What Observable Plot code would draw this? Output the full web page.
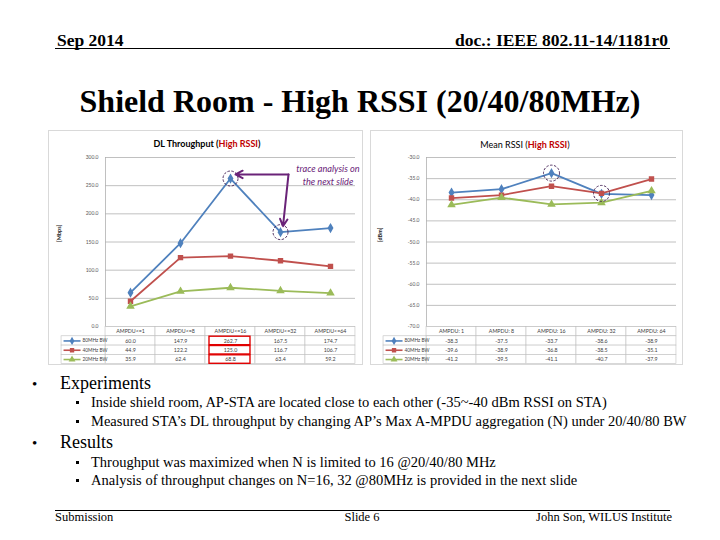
<!DOCTYPE html>
<html><head><meta charset="utf-8">
<script src="https://cdn.jsdelivr.net/npm/d3@7"></script>
<script src="https://cdn.jsdelivr.net/npm/@observablehq/plot@0.6"></script>
<style>
html,body{margin:0;padding:0}
body{width:720px;height:540px;position:relative;background:#fff;font-family:"Liberation Serif","Times New Roman",serif;overflow:hidden;color:#000}
.abs{position:absolute;white-space:nowrap}
.hdr{font-weight:bold;font-size:17.5px;line-height:18px;top:31px}
.rule{position:absolute;height:1px;background:#000}
.frame{position:absolute;border:1px solid #d9d9d9;background:#fff;box-sizing:border-box}
.frame svg{position:absolute;left:0;overflow:visible}
.ctitle{position:absolute;font-family:Lato,sans-serif;font-size:9px;line-height:10px;transform:translateX(-50%);white-space:nowrap;color:#000}
.red{color:#c00000;font-weight:bold}
.b1{font-size:18px;line-height:18px}
.b2{font-size:14.5px;line-height:15px}
.dot1{position:absolute;font-size:15px;line-height:18px}
.sq{position:absolute;width:3px;height:3px;background:#000}
.foot{font-size:12.5px;line-height:13px;top:511px}
</style></head><body>

<div class="abs hdr" style="left:57px">Sep 2014</div>
<div class="abs hdr" style="right:52px">doc.: IEEE 802.11-14/1181r0</div>
<div class="rule" style="left:55px;top:48px;width:615px"></div>

<div class="abs" style="left:0;width:720px;text-align:center;top:85px;font-size:32px;line-height:32px;font-weight:bold">Shield Room - High RSSI (20/40/80MHz)</div>

<div class="frame" id="f1" style="left:48px;top:130px;width:315px;height:235px">
  <div class="ctitle" style="left:158px;top:8px;font-weight:bold">DL Throughput (<span class="red">High RSSI</span>)</div>
</div>
<div class="frame" id="f2" style="left:370px;top:130px;width:313px;height:235px">
  <div class="ctitle" style="left:154px;top:9px">Mean RSSI (<span class="red">High RSSI</span>)</div>
</div>

<div class="dot1" style="left:32px;top:375px">•</div>
<div class="abs b1" style="left:60px;top:374px">Experiments</div>
<div class="sq" style="left:76px;top:401px"></div>
<div class="abs b2" style="left:91px;top:395px">Inside shield room, AP-STA are located close to each other (-35~-40 dBm RSSI on STA)</div>
<div class="sq" style="left:76px;top:420px"></div>
<div class="abs b2" style="left:91px;top:414px">Measured STA’s DL throughput by changing AP’s Max A-MPDU aggregation (N) under 20/40/80 BW</div>
<div class="dot1" style="left:32px;top:434px">•</div>
<div class="abs b1" style="left:60px;top:433px">Results</div>
<div class="sq" style="left:76px;top:461px"></div>
<div class="abs b2" style="left:91px;top:455px">Throughput was maximized when N is limited to 16 @20/40/80 MHz</div>
<div class="sq" style="left:76px;top:479px"></div>
<div class="abs b2" style="left:91px;top:473px">Analysis of throughput changes on N=16, 32 @80MHz is provided in the next slide</div>

<div class="rule" style="left:55px;top:510px;width:615px"></div>
<div class="abs foot" style="left:55px">Submission</div>
<div class="abs foot" style="left:0;width:724px;text-align:center">Slide 6</div>
<div class="abs foot" style="right:48px">John Son, WILUS Institute</div>

<script>
// ---------- data ----------
const tpCategories = ["AMPDU<=1", "AMPDU<=8", "AMPDU<=16", "AMPDU<=32", "AMPDU<=64"];
const rssiCategories = ["AMPDU: 1", "AMPDU: 8", "AMPDU: 16", "AMPDU: 32", "AMPDU: 64"];
const seriesNames = ["80MHz BW", "40MHz BW", "20MHz BW"];
const seriesColors = ["#4f81bd", "#c0504d", "#9bbb59"];
const seriesSymbols = ["diamond", "square", "triangle"];

const tp80 = [60.0, 147.9, 262.7, 167.5, 174.7];
const tp40 = [44.9, 122.2, 125.0, 116.7, 106.7];
const tp20 = [35.9, 62.4, 68.8, 63.4, 59.2];

const rssi80 = [-38.3, -37.5, -33.7, -38.6, -38.9];
const rssi40 = [-39.6, -38.9, -36.8, -38.5, -35.1];
const rssi20 = [-41.2, -39.5, -41.1, -40.7, -37.9];

const tpTicks = [0, 50, 100, 150, 200, 250, 300];
const rssiTicks = [-30, -35, -40, -45, -50, -55, -60, -65, -70];

// annotations (data units)
const tpCircled = [2, 3];           // indices of circled 80MHz points
const tpHighlightCol = 2;           // red boxed table column
const tpArrowCorner = {i: 3.16, v: 270};
const tpArrowTips = [{i: 2.1, v: 270}, {i: 3.05, v: 178}];
const tpNote = {i: 3.95, v: 270, t: "trace analysis on\nthe next slide"};
const rssiCircled = [{s: 0, i: 2}, {s: 1, i: 3}];

const purple = "#6a2378";

// ---------- helpers ----------
function toRows(vals) {
  const rows = [];
  vals.forEach((arr, k) => arr.forEach((v, i) => rows.push({i, v, s: seriesNames[k]})));
  return rows;
}

function makeChart({cats, vals, domain, ticks, width, marginLeft, marginRight, plotTop, plotBottom, unit, extra}) {
  const rows = toRows(vals);
  return Plot.plot({
    width, height: plotBottom, marginTop: plotTop, marginBottom: 0, marginLeft, marginRight,
    x: {type: "linear", domain: [-0.5, cats.length - 0.5], axis: null},
    y: {domain, axis: null},
    color: {domain: seriesNames, range: seriesColors},
    symbol: {domain: seriesNames, range: seriesSymbols},
    style: {fontFamily: "Lato, sans-serif", background: "transparent", color: "#595959"},
    marks: [
      Plot.ruleY(ticks, {stroke: "#b0b0b0", strokeWidth: 0.8}),
      Plot.ruleX([-0.5], {stroke: "#b0b0b0", strokeWidth: 0.8}),
      Plot.axisY(ticks, {tickSize: 0, tickPadding: 7, tickFormat: d => d.toFixed(1), fontSize: 5, label: null}),
      Plot.text([unit], {frameAnchor: "left", dx: -46, rotate: -90, fontSize: 5.5, fontWeight: "bold", fill: "#262626"}),
      Plot.line(rows, {x: "i", y: "v", z: "s", stroke: "s", strokeWidth: 1.8}),
      Plot.dot(rows, {x: "i", y: "v", fill: "s", stroke: "s", symbol: "s", r: 2.2}),
      ...extra
    ]
  });
}

function makeTable({cats, vals, width, marginLeft, marginRight, rowH, legendW, highlightCol}) {
  const nRows = seriesNames.length + 1;
  const cells = [];
  cats.forEach((c, i) => cells.push({x1: i - 0.5, x2: i + 0.5, r: 0, t: c}));
  vals.forEach((arr, k) => arr.forEach((v, i) => cells.push({x1: i - 0.5, x2: i + 0.5, r: k + 1, t: v.toFixed(1)})));
  const legend = seriesNames.map((s, k) => ({x1: -0.5 - legendW, x2: -0.5, r: k + 1, s}));
  const marks = [
    Plot.rect(cells, {x1: "x1", x2: "x2", y1: "r", y2: d => d.r + 1, fill: "white", stroke: "#bfbfbf", strokeWidth: 0.6}),
    Plot.rect(legend, {x1: "x1", x2: "x2", y1: "r", y2: d => d.r + 1, fill: "white", stroke: "#bfbfbf", strokeWidth: 0.6}),
    Plot.text(cells, {x: d => (d.x1 + d.x2) / 2, y: d => d.r + 0.5, text: "t", fontSize: 5.3, fill: "#404040"}),
    Plot.link(legend, {x1: d => d.x1 + 0.04, x2: d => d.x1 + 0.38, y1: d => d.r + 0.5, y2: d => d.r + 0.5, stroke: "s", strokeWidth: 1.6}),
    Plot.dot(legend, {x: d => d.x1 + 0.21, y: d => d.r + 0.5, fill: "s", stroke: "s", symbol: "s", r: 1.6}),
    Plot.text(legend, {x: d => d.x1 + 0.42, y: d => d.r + 0.5, text: "s", textAnchor: "start", fontSize: 4.8, fill: "#404040"})
  ];
  if (highlightCol != null) {
    const hl = seriesNames.map((s, k) => ({x1: highlightCol - 0.5, x2: highlightCol + 0.5, r: k + 1}));
    marks.push(Plot.rect(hl, {x1: "x1", x2: "x2", y1: "r", y2: d => d.r + 1, fill: "none", stroke: "#e00000", strokeWidth: 1.4, insetLeft: 4, insetRight: 5, insetTop: 0.4, insetBottom: 0.4}));
  }
  return Plot.plot({
    width, height: rowH * nRows + 2, marginTop: 0, marginBottom: 0, marginLeft, marginRight,
    x: {type: "linear", domain: [-0.5, cats.length - 0.5], axis: null},
    y: {type: "linear", domain: [0, nRows], range: [0.5, rowH * nRows + 0.5], axis: null},
    color: {domain: seriesNames, range: seriesColors},
    symbol: {domain: seriesNames, range: seriesSymbols},
    style: {fontFamily: "Lato, sans-serif", background: "transparent"},
    marks
  });
}

// ---------- throughput chart ----------
const tpVals = [tp80, tp40, tp20];
const tpExtra = [
  Plot.dot(tpCircled.map(i => ({i, v: tp80[i]})), {x: "i", y: "v", r: 7.5, stroke: "#3d1a4f", strokeWidth: 0.9, strokeDasharray: "2.5,1.5", fill: "none"}),
  Plot.arrow(tpArrowTips, {x1: () => tpArrowCorner.i, y1: () => tpArrowCorner.v, x2: "i", y2: "v", stroke: purple, strokeWidth: 2, headLength: 6, headAngle: 55}),
  Plot.text([tpNote], {x: "i", y: "v", text: "t", fontSize: 9.2, fontStyle: "italic", fill: purple, lineHeight: 1.35})
];
const c1 = makeChart({cats: tpCategories, vals: tpVals, domain: [0, 300], ticks: tpTicks, width: 313, marginLeft: 56, marginRight: 7, plotTop: 26, plotBottom: 195, unit: "[Mbps]", extra: tpExtra});
const t1 = makeTable({cats: tpCategories, vals: tpVals, width: 313, marginLeft: 56, marginRight: 7, rowH: 9.3, legendW: 0.88, highlightCol: tpHighlightCol});
c1.style.top = "0px"; t1.style.top = "195px";
document.getElementById("f1").append(c1, t1);

// ---------- RSSI chart ----------
const rssiVals = [rssi80, rssi40, rssi20];
const rssiExtra = [
  Plot.dot(rssiCircled.map(d => ({i: d.i, v: rssiVals[d.s][d.i]})), {x: "i", y: "v", r: 8, stroke: "#3d1a4f", strokeWidth: 0.9, strokeDasharray: "2.5,1.5", fill: "none"})
];
const c2 = makeChart({cats: rssiCategories, vals: rssiVals, domain: [-70, -30], ticks: rssiTicks, width: 311, marginLeft: 55, marginRight: 6, plotTop: 26, plotBottom: 195, unit: "[dBm]", extra: rssiExtra});
const t2 = makeTable({cats: rssiCategories, vals: rssiVals, width: 311, marginLeft: 55, marginRight: 6, rowH: 9.3, legendW: 0.86, highlightCol: null});
c2.style.top = "0px"; t2.style.top = "195px";
document.getElementById("f2").append(c2, t2);
</script>
</body></html>
